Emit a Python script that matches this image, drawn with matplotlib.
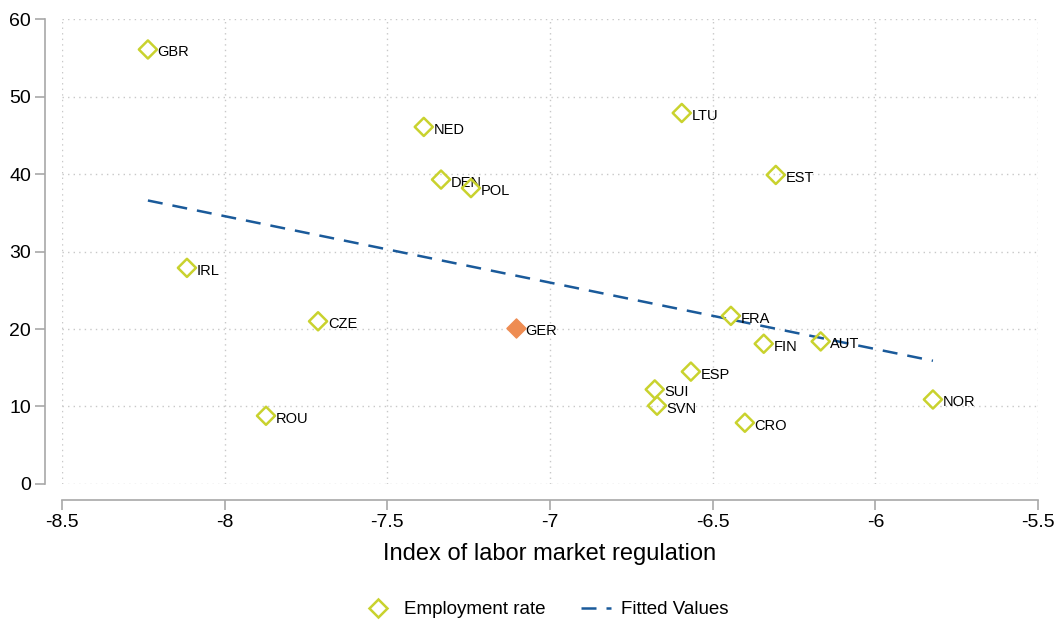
import numpy as np
import matplotlib
matplotlib.use("Agg")
import matplotlib.pyplot as plt
from matplotlib.lines import Line2D

plt.rcParams['font.family'] = ['Liberation Sans', 'DejaVu Sans']

countries = ['GBR', 'IRL', 'ROU', 'CZE', 'NED', 'DEN', 'POL', 'GER', 'LTU',
             'EST', 'FRA', 'FIN', 'AUT', 'ESP', 'SUI', 'SVN', 'CRO', 'NOR']
regulation = [-8.236, -8.116, -7.873, -7.713, -7.388, -7.335, -7.243, -7.105, -6.595,
              -6.306, -6.444, -6.343, -6.168, -6.567, -6.678, -6.671, -6.401, -5.823]
employment = [56.1, 27.9, 8.8, 21.0, 46.1, 39.3, 38.2, 20.1, 47.9,
              39.9, 21.7, 18.1, 18.4, 14.5, 12.2, 10.1, 7.9, 10.9]
highlight = 'GER'

# fitted line (end points)
fit_x = [-8.236, -5.823]
fit_y = [36.6, 15.9]

xticks = [-8.5, -8, -7.5, -7, -6.5, -6, -5.5]
yticks = [0, 10, 20, 30, 40, 50, 60]

green = '#c9d22e'
orange = '#ee8c52'
blue = '#1a5a9a'

fig = plt.figure(figsize=(10.62, 6.22), dpi=100)
ax = fig.add_axes([0.0584, 0.222, 0.919, 0.747])

ax.set_xlim(-8.5, -5.5)
ax.set_ylim(0, 60)
ax.set_xticks(xticks)
ax.set_xticklabels(['%g' % t for t in xticks])
ax.set_yticks(yticks)

ax.grid(True, color='#c8c8c8', linestyle=(0, (1, 3)), linewidth=1.0)
ax.set_axisbelow(True)

for s in ['top', 'right']:
    ax.spines[s].set_visible(False)
ax.spines['left'].set_position(('outward', 12.2))
ax.spines['bottom'].set_position(('outward', 11.5))
for s in ['left', 'bottom']:
    ax.spines[s].set_color('#a8a8a8')
    ax.spines[s].set_linewidth(1.2)
ax.tick_params(colors='#a8a8a8', labelcolor='black', length=7, width=1.2, labelsize=14)
ax.tick_params(axis='y', pad=3)

ax.plot(fit_x, fit_y, linestyle=(0, (6, 4)), color=blue, linewidth=1.8, zorder=2)

for c, x, y in zip(countries, regulation, employment):
    if c == highlight:
        ax.scatter(x, y, marker='D', s=95, color=orange, edgecolors=orange, zorder=3)
    else:
        ax.scatter(x, y, marker='D', s=85, facecolors='none', edgecolors=green,
                   linewidths=1.8, zorder=3)
    ax.annotate(c, (x, y), xytext=(7, -5), textcoords='offset points', fontsize=10.5)

ax.set_xlabel('Index of labor market regulation', fontsize=17, labelpad=8)

handles = [
    Line2D([], [], marker='D', markersize=9, markerfacecolor='none', markeredgecolor=green,
           markeredgewidth=1.8, linestyle='none', label='Employment rate'),
    Line2D([], [], color=blue, linestyle=(0, (6, 4)), linewidth=1.8, label='Fitted Values'),
]
fig.legend(handles=handles, loc='center', bbox_to_anchor=(0.514, 0.02), ncol=2,
           frameon=False, fontsize=13.5, handlelength=1.6, handletextpad=0.55,
           columnspacing=1.9)

fig.savefig('out.png', dpi=100)
